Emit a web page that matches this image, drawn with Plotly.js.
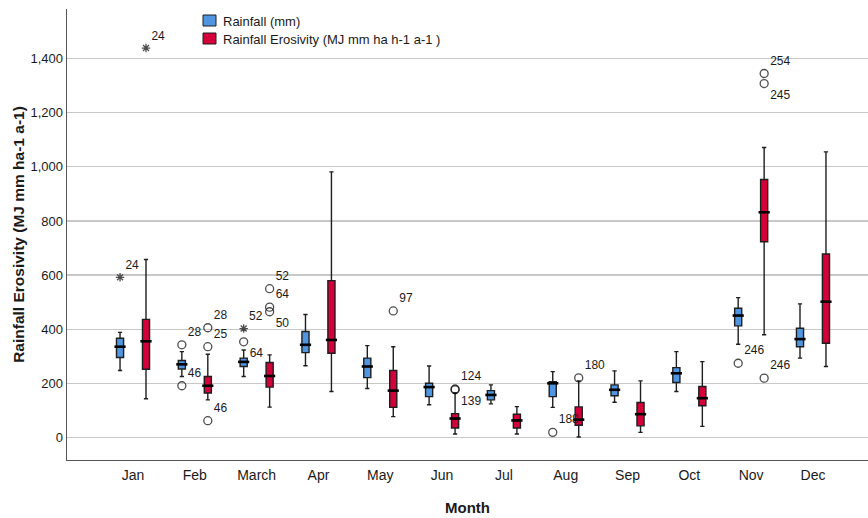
<!DOCTYPE html>
<html>
<head>
<meta charset="utf-8">
<script src="https://cdn.plot.ly/plotly-3.0.1.min.js"></script>
<style>html,body{margin:0;padding:0;background:#fff;}#chart{width:868px;height:518px;}</style>
</head>
<body>
<div id="chart"></div>
<script>
// ---- data ----
const months = ['Jan','Feb','March','Apr','May','Jun','Jul','Aug','Sep','Oct','Nov','Dec'];
const seriesNames = ['Rainfall (mm)', 'Rainfall Erosivity (MJ mm ha h-1 a-1 )'];

// Rainfall (mm)
const rainLower  = [248,226,226,266,182,122,125,112,131,171,345,294];
const rainQ1     = [296,254,263,314,222,152,140,152,155,204,413,336];
const rainMedian = [336,271,280,343,263,187,158,201,177,238,451,364];
const rainQ3     = [367,285,294,392,294,201,174,207,195,259,478,404];
const rainUpper  = [389,318,324,455,340,265,195,244,247,318,517,494];

// Rainfall Erosivity (MJ mm ha h-1 a-1)
const eroLower  = [144,140,113,171,78,14,14,3,20,42,380,263];
const eroQ1     = [253,165,187,312,112,36,36,46,44,118,723,349];
const eroMedian = [356,192,228,361,174,71,64,67,87,146,832,502];
const eroQ3     = [437,226,278,580,248,89,87,114,130,189,953,678];
const eroUpper  = [658,308,306,981,336,165,115,210,210,281,1071,1055];

// outliers (month index, value, case label, extreme?)
const rainOutMonth   = [0,1,1,2,2,7,10];
const rainOutValue   = [592,343,192,403,354,20,275];
const rainOutLabel   = ['24','28','46','52','64','188','246'];
const rainOutExtreme = [true,false,false,true,false,false,false];

const eroOutMonth   = [0,1,1,1,2,2,2,4,5,5,7,10,10,10];
const eroOutValue   = [1438,406,336,63,550,482,465,468,180,177,221,1344,1307,220];
const eroOutLabel   = ['24','28','25','46','52','64','50','97','124','139','180','254','245','246'];
const eroOutExtreme = [true,false,false,false,false,false,false,false,false,false,false,false,false,false];

// ---- styling / placement ----
const rainLabelPos = ['top right','top right','top right','top right','bottom right','top right','top right'];
const eroLabelPos  = ['top right','top right','top right','top right','top right','top right','bottom right','top right','top right','bottom right','top right','top right','bottom right','top right'];

const OFF = 0.21, BW = 0.115;
const BLUE = '#4f95e0', RED = '#d3003a';
const pos = (idx, s) => idx.map(i => i + s * OFF);
const idxAll = months.map((m, i) => i);

const M = {l: 67, r: 0, t: 9, b: 58}, W = 868, H = 518;
const pw = W - M.l - M.r, ph = H - M.t - M.b;
const px = x => (x - M.l) / pw;
const py = y => (H - M.b - y) / ph;

function boxTrace(name, color, sign, lo, q1, med, q3, up) {
  return {
    type: 'box', name: name, x: pos(idxAll, sign),
    lowerfence: lo, q1: q1, median: med, q3: q3, upperfence: up,
    width: BW, whiskerwidth: 0.6, boxpoints: false,
    fillcolor: color, line: {color: '#1e1e1e', width: 1.4},
    hoverinfo: 'skip', showlegend: false
  };
}
function medTrace(sign, med) {
  return {
    type: 'scatter', mode: 'markers', x: pos(idxAll, sign), y: med,
    marker: {symbol: 'line-ew-open', size: 8, color: '#000', line: {color: '#000', width: 2.6}},
    showlegend: false, hoverinfo: 'skip'
  };
}
function outTrace(sign, mIdx, vals, labels, extreme, tpos) {
  return {
    type: 'scatter', mode: 'markers+text',
    x: pos(mIdx, sign), y: vals, text: labels, textposition: tpos,
    textfont: {family: 'Liberation Sans, Arial, sans-serif', size: 12, color: '#1a1a1a'},
    marker: {
      symbol: extreme.map(e => e ? 'asterisk-open' : 'circle-open'),
      size: extreme.map(e => e ? 7 : 8),
      color: '#000', line: {color: '#000', width: 1.3}
    },
    showlegend: false, hoverinfo: 'skip', cliponaxis: false
  };
}

const data = [
  boxTrace(seriesNames[0], BLUE, -1, rainLower, rainQ1, rainMedian, rainQ3, rainUpper),
  boxTrace(seriesNames[1], RED, 1, eroLower, eroQ1, eroMedian, eroQ3, eroUpper),
  medTrace(-1, rainMedian),
  medTrace(1, eroMedian),
  outTrace(-1, rainOutMonth, rainOutValue, rainOutLabel, rainOutExtreme, rainLabelPos),
  outTrace(1, eroOutMonth, eroOutValue, eroOutLabel, eroOutExtreme, eroLabelPos)
];

// custom legend (swatch + label), placed in pixels
const legendRows = [{c: BLUE, y: 21}, {c: RED, y: 39}];
const shapes = legendRows.map(r => ({
  type: 'rect', xref: 'paper', yref: 'paper',
  x0: px(203), x1: px(216), y0: py(r.y - 6), y1: py(r.y + 5),
  fillcolor: r.c, line: {color: '#1e1e1e', width: 1}
}));
const annotations = legendRows.map((r, i) => ({
  xref: 'paper', yref: 'paper', x: px(221), y: py(r.y), xanchor: 'left', yanchor: 'middle',
  text: seriesNames[i], showarrow: false, font: {size: 13, color: '#1a1a1a'}
}));

const layout = {
  width: W, height: H, margin: M,
  paper_bgcolor: '#fff', plot_bgcolor: '#fff',
  font: {family: 'Liberation Sans, Arial, sans-serif', color: '#1a1a1a'},
  showlegend: false, shapes: shapes, annotations: annotations,
  xaxis: {
    range: [-1.068, 11.89], tickvals: idxAll, ticktext: months,
    showgrid: false, zeroline: false, showline: true, linecolor: '#555', linewidth: 1.4,
    ticks: 'outside', ticklen: 2, tickcolor: 'rgba(0,0,0,0)',
    tickfont: {size: 14, color: '#1a1a1a'},
    title: {text: '<b>Month</b>', font: {size: 15, color: '#1a1a1a'}, standoff: 20}
  },
  yaxis: {
    range: [-82, 1582], tick0: 0, dtick: 200, tickformat: ',d',
    showgrid: true, gridcolor: '#c8c8c8', gridwidth: 1.4,
    zeroline: false, showline: true, linecolor: '#555', linewidth: 1.4,
    ticks: '', tickfont: {size: 13, color: '#1a1a1a'},
    title: {text: '<b>Rainfall Erosivity (MJ mm ha-1 a-1)</b>', font: {size: 15.5, color: '#1a1a1a'}, standoff: 2}
  }
};

Plotly.newPlot('chart', data, layout, {displayModeBar: false, staticPlot: true});
</script>
</body>
</html>
